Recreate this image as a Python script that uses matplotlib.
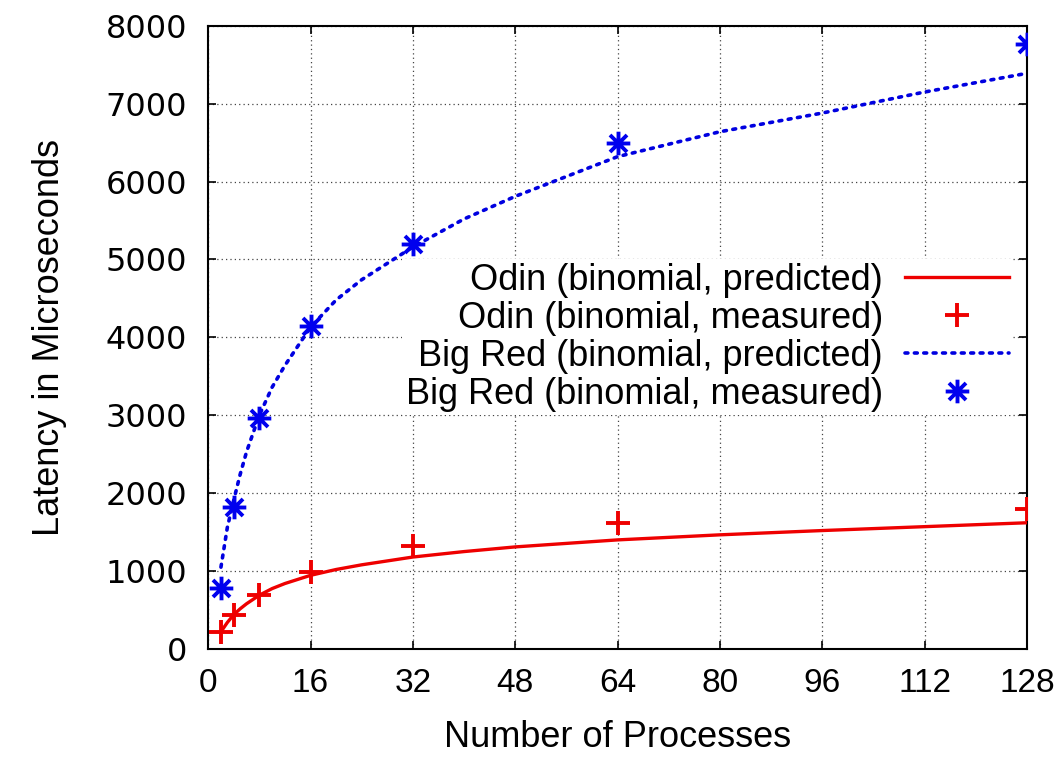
import matplotlib
matplotlib.use("Agg")
import matplotlib.pyplot as plt
from matplotlib.path import Path

# measured points (number of processes -> latency in microseconds)
procs = [2, 4, 8, 16, 32, 64, 128]
odin_measured = [222, 437, 693, 985, 1326, 1618, 1798]
bigred_measured = [787, 1819, 2962, 4147, 5200, 6497, 7771]

# predicted curves
pred_procs = [2, 3, 4, 5, 6, 8, 10, 12, 16, 20, 24, 32, 40, 48, 64, 80, 96, 112, 128]
odin_predicted = [220, 340, 440, 515, 580, 690, 775, 840, 945, 1020, 1080, 1180,
                  1250, 1310, 1400, 1465, 1520, 1570, 1620]
bigred_predicted = [1050, 1560, 1910, 2240, 2530, 3000, 3360, 3640, 4130, 4480, 4740,
                    5160, 5520, 5810, 6320, 6640, 6880, 7150, 7390]

labels = ["Odin (binomial, predicted)", "Odin (binomial, measured)",
          "Big Red (binomial, predicted)", "Big Red (binomial, measured)"]

plt.rcParams['font.family'] = ['Liberation Sans', 'DejaVu Sans']

# gnuplot style asterisk: plus and cross
star = Path([(-1, 0), (1, 0), (0, -1), (0, 1), (-0.72, -0.72), (0.72, 0.72),
             (-0.72, 0.72), (0.72, -0.72)],
            [Path.MOVETO, Path.LINETO] * 4)

fig = plt.figure(figsize=(10.62, 7.59), dpi=100)
ax = fig.add_axes([0.196, 0.145, 0.771, 0.821])

ax.plot(pred_procs, odin_predicted, color='#ee0000', lw=2.4, label=labels[0], zorder=3)
ax.plot(procs, odin_measured, ls='none', marker='+', ms=17, mew=2.8,
        color='#ee0000', label=labels[1], zorder=4)
ax.plot(pred_procs, bigred_predicted, color='#0000e0', lw=2.6, ls=(0, (0.8, 1.8)),
        dash_capstyle='round', label=labels[2], zorder=3)
ax.plot(procs, bigred_measured, ls='none', marker=star, ms=17, mew=2.8,
        color='#0000ee', label=labels[3], zorder=4)

ax.set_xlim(0, 128)
ax.set_ylim(0, 8000)
ax.set_xticks(range(0, 129, 16))
ax.set_yticks(range(0, 8001, 1000))

ax.grid(True, color='#444444', ls=(0, (1, 2.5)), lw=0.9)
ax.tick_params(direction='in', top=True, right=True, length=6, width=1.2)
ax.tick_params(axis='x', labelsize=24, pad=14)
ax.tick_params(axis='y', labelsize=23, pad=15, labelfontfamily='DejaVu Sans')
for s in ax.spines.values():
    s.set_linewidth(1.5)

ax.set_xlabel("Number of Processes", fontsize=26, labelpad=15)
ax.set_ylabel("Latency in Microseconds", fontsize=26, labelpad=28)

leg = ax.legend(loc='upper right', bbox_to_anchor=(0.983, 0.625), fontsize=26,
                markerfirst=False, frameon=True, framealpha=1, facecolor='white',
                edgecolor='none', fancybox=False, handlelength=2.9,
                handletextpad=0.6, labelspacing=0.08, borderpad=0.1, borderaxespad=0)
leg.set_zorder(5)

fig.savefig("out.png", dpi=100)
